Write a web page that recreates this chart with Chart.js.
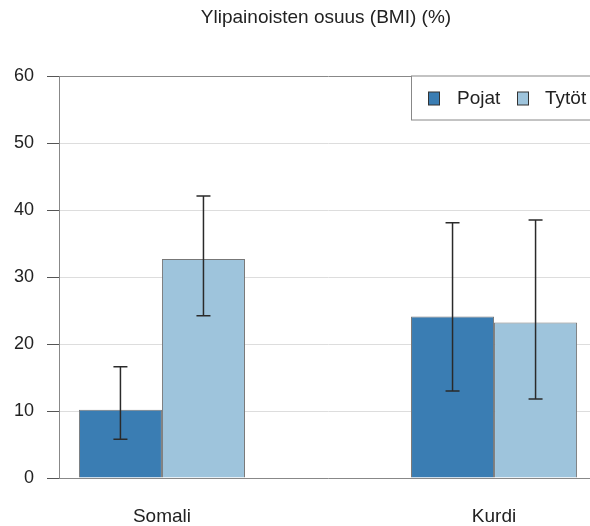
<!DOCTYPE html>
<html>
<head>
<meta charset="utf-8">
<script src="https://cdn.jsdelivr.net/npm/chart.js@4/dist/chart.umd.min.js"></script>
<style>
  html, body { margin: 0; padding: 0; background: #fff; overflow: hidden; }
  #wrap { position: relative; width: 600px; height: 526px; }
</style>
</head>
<body>
<div id="wrap"><canvas id="c"></canvas></div>
<script>
const chartTitle = 'Ylipainoisten osuus (BMI) (%)';
const groups = ['Somali', 'Kurdi'];
const seriesNames = ['Pojat', 'Tytöt'];
const pojat = [10.2, 24.1];
const pojatLow = [5.8, 13.0];
const pojatHigh = [16.6, 38.1];
const tytot = [32.7, 23.2];
const tytotLow = [24.2, 11.8];
const tytotHigh = [42.1, 38.5];
const yTicks = [0, 10, 20, 30, 40, 50, 60];

const textColor = '#222222';
const fontFamily = '"Liberation Sans", Arial, sans-serif';
const seriesColors = ['#3a7db3', '#9ec4dc'];
const lows = [pojatLow, tytotLow];
const highs = [pojatHigh, tytotHigh];

const toPoints = (vals) => vals.map((v, i) => ({ x: i + 1, y: v }));

// Whisker lines for the confidence intervals
const errorBars = {
  id: 'errorBars',
  afterDatasetsDraw(chart) {
    const { ctx, scales: { y } } = chart;
    ctx.save();
    ctx.strokeStyle = '#2a2a2a';
    ctx.lineWidth = 1.5;
    chart.data.datasets.forEach((ds, d) => {
      const meta = chart.getDatasetMeta(d);
      meta.data.forEach((bar, i) => {
        const x = bar.x;
        const yLo = y.getPixelForValue(lows[d][i]);
        const yHi = y.getPixelForValue(highs[d][i]);
        const cap = 7;
        ctx.beginPath();
        ctx.moveTo(x, yLo); ctx.lineTo(x, yHi);
        ctx.moveTo(x - cap, yLo); ctx.lineTo(x + cap, yLo);
        ctx.moveTo(x - cap, yHi); ctx.lineTo(x + cap, yHi);
        ctx.stroke();
      });
    });
    ctx.restore();
  }
};

// Heading above the plot and the boxed legend in its top-right corner
const decorations = {
  id: 'decorations',
  afterDraw(chart) {
    const { ctx, chartArea } = chart;
    ctx.save();
    ctx.fillStyle = textColor;
    ctx.font = '19px ' + fontFamily;
    ctx.textAlign = 'center';
    ctx.textBaseline = 'middle';
    ctx.fillText(chartTitle, (chartArea.left + chartArea.right) / 2 - 2, 18);

    const boxX = 411.5, boxY = chartArea.top, boxH = 44;
    ctx.fillStyle = '#ffffff';
    ctx.fillRect(boxX, boxY, 300, boxH);
    ctx.strokeStyle = '#888888';
    ctx.lineWidth = 1;
    ctx.strokeRect(boxX, boxY, 300, boxH);

    const swatchX = [428.5, 517.5];
    const labelX = [457, 545];
    ctx.font = '19px ' + fontFamily;
    ctx.textAlign = 'left';
    chart.data.datasets.forEach((ds, d) => {
      ctx.fillStyle = ds.backgroundColor;
      ctx.fillRect(swatchX[d], boxY + 16, 11, 13);
      ctx.strokeStyle = '#333333';
      ctx.strokeRect(swatchX[d], boxY + 16, 11, 13);
      ctx.fillStyle = textColor;
      ctx.fillText(ds.label, labelX[d], boxY + 23);
    });
    ctx.restore();
  }
};

new Chart(document.getElementById('c'), {
  type: 'bar',
  data: {
    datasets: [
      { label: seriesNames[0], data: toPoints(pojat), backgroundColor: seriesColors[0] },
      { label: seriesNames[1], data: toPoints(tytot), backgroundColor: seriesColors[1] }
    ]
  },
  options: {
    responsive: true,
    maintainAspectRatio: false,
    animation: false,
    layout: { padding: { top: 76, right: 3, left: 0, bottom: 0 } },
    datasets: {
      bar: {
        categoryPercentage: 0.5,
        barPercentage: 1.0,
        borderColor: '#777777',
        borderWidth: 1
      }
    },
    plugins: {
      legend: { display: false },
      title: { display: false },
      tooltip: { enabled: false }
    },
    scales: {
      x: {
        type: 'linear',
        min: 0.69,
        max: 2.31,
        offset: false,
        afterBuildTicks: (scale) => { scale.ticks = groups.map((_, i) => ({ value: i + 1 })); },
        afterFit: (scale) => { scale.height = 48; },
        grid: { display: false },
        border: { display: true, color: '#888888', width: 1 },
        ticks: {
          callback: (v) => groups[Math.round(v) - 1],
          color: textColor,
          font: { size: 19, family: fontFamily },
          padding: 19,
          maxRotation: 0
        }
      },
      y: {
        min: 0,
        max: 60,
        afterBuildTicks: (scale) => { scale.ticks = yTicks.map(v => ({ value: v })); },
        afterFit: (scale) => { scale.width = 59; },
        grid: {
          color: (c) => (c.tick && c.tick.value === 60 ? '#888888' : '#dddddd'),
          tickColor: '#555555',
          tickLength: 12,
          lineWidth: 1
        },
        border: { display: true, color: '#888888', width: 1 },
        ticks: {
          color: textColor,
          font: { size: 18, family: fontFamily },
          padding: 13
        }
      }
    }
  },
  plugins: [errorBars, decorations]
});
</script>
</body>
</html>
